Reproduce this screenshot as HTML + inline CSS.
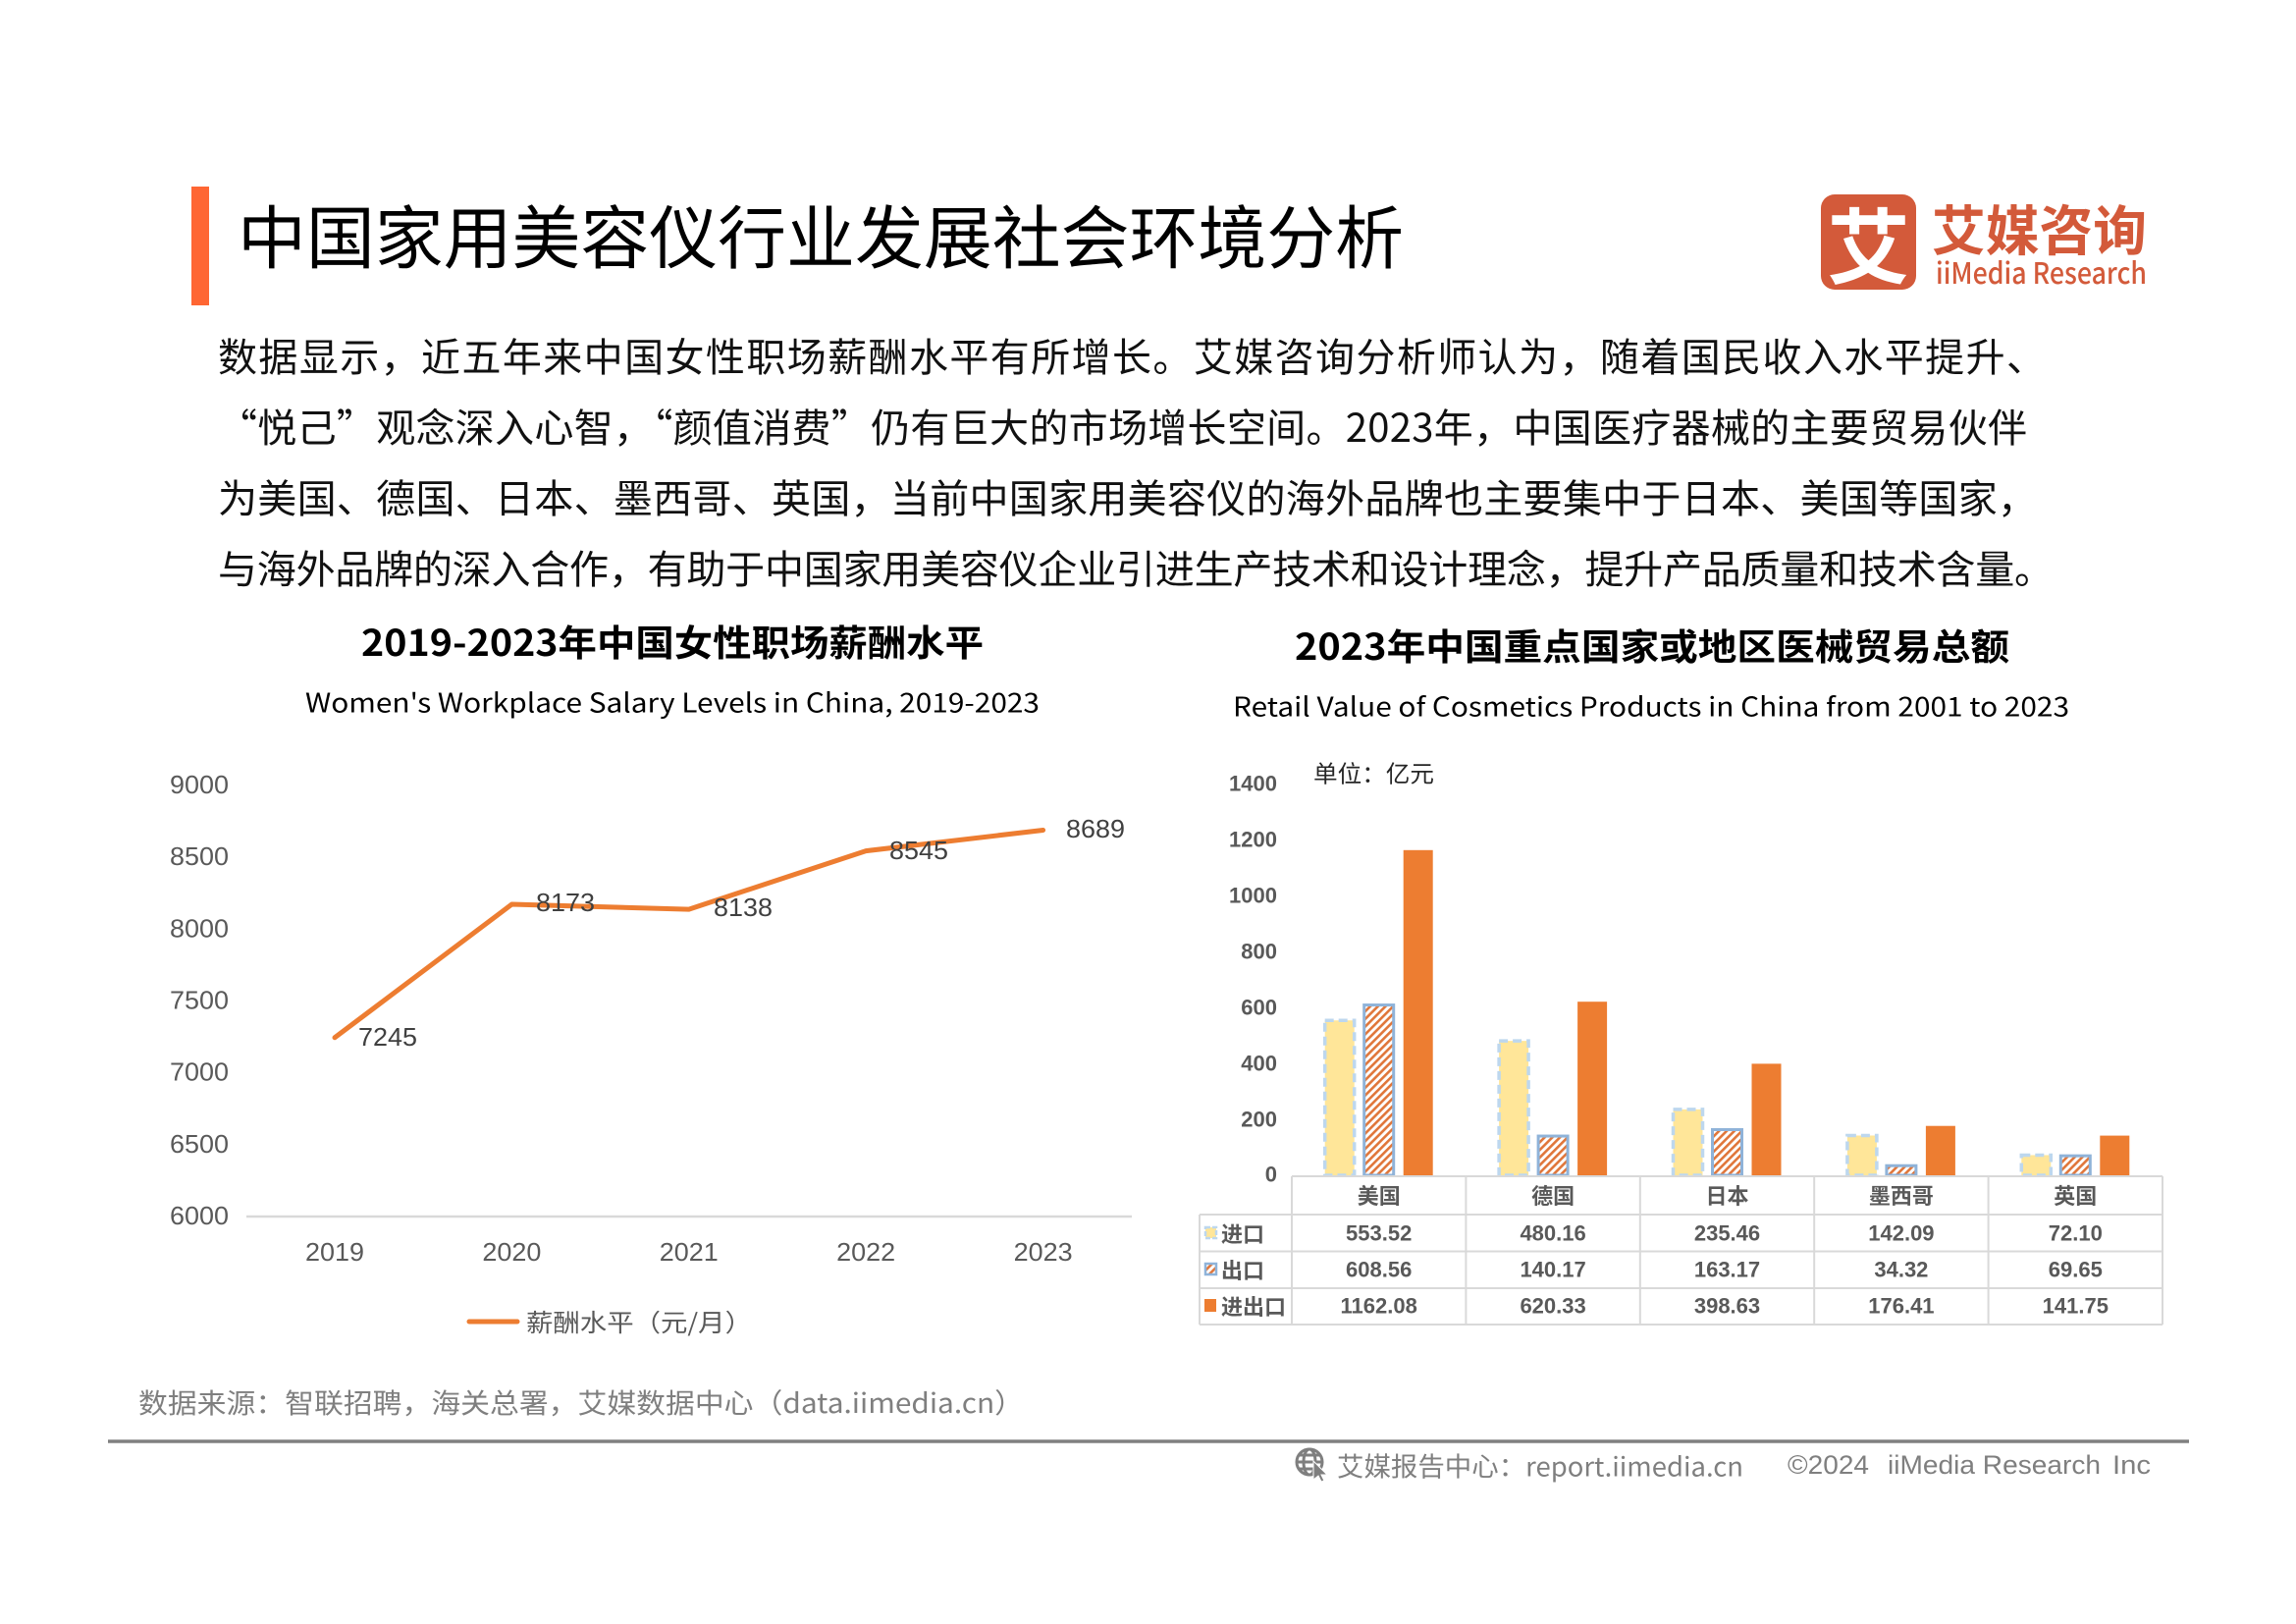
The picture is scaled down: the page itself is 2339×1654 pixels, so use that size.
<!DOCTYPE html>
<html>
<head>
<meta charset="utf-8">
<style>
  html,body{margin:0;padding:0;background:#fff;}
  body{width:2339px;height:1654px;overflow:hidden;}
  svg{display:block;}
  text{font-family:"Liberation Sans","Noto Sans CJK SC",sans-serif;}
  .cjk{font-family:"Noto Sans CJK SC","Liberation Sans",sans-serif;}
</style>
</head>
<body>
<svg width="2339" height="1654" viewBox="0 0 2339 1654" xmlns="http://www.w3.org/2000/svg">
  <defs>
    <pattern id="hatch" patternUnits="userSpaceOnUse" width="5.5" height="5.5" patternTransform="rotate(45)">
      <rect width="5.5" height="5.5" fill="#ffffff"/>
      <rect x="0" y="0" width="2.6" height="5.5" fill="#E0763A"/>
    </pattern>
  </defs>
  <rect width="2339" height="1654" fill="#ffffff"/>

  <!-- Header -->
  <rect x="195" y="190" width="18" height="121" fill="#FF6633"/>
  <text class="cjk" x="242" y="238" font-size="70" dominant-baseline="central" fill="#000" textLength="1188" lengthAdjust="spacingAndGlyphs">中国家用美容仪行业发展社会环境分析</text>

  <!-- Logo -->
  <rect x="1855" y="198" width="97" height="97" rx="14" fill="#D35A3A"/>
  <text class="cjk" x="1903.5" y="247" font-size="84" font-weight="bold" fill="#ffffff" text-anchor="middle" dominant-baseline="central">艾</text>
  <text class="cjk" x="1968" y="231" font-size="55" font-weight="bold" fill="#D35A3A" dominant-baseline="central" textLength="219" lengthAdjust="spacingAndGlyphs">艾媒咨询</text>
  <text class="cjk" x="1972" y="276" font-size="30" font-weight="500" fill="#D35A3A" dominant-baseline="central" textLength="215" lengthAdjust="spacingAndGlyphs">iiMedia Research</text>

  <!-- Paragraph -->
  <g class="cjk" font-size="40" fill="#111">
    <text class="cjk" x="222" y="361" dominant-baseline="central" textLength="1862" lengthAdjust="spacing">数据显示，近五年来中国女性职场薪酬水平有所增长。艾媒咨询分析师认为，随着国民收入水平提升、</text>
    <text class="cjk" x="222" y="433" dominant-baseline="central" textLength="1843" lengthAdjust="spacing">“悦己”观念深入心智，“颜值消费”仍有巨大的市场增长空间。2023年，中国医疗器械的主要贸易伙伴</text>
    <text class="cjk" x="222" y="505" dominant-baseline="central" textLength="1853" lengthAdjust="spacing">为美国、德国、日本、墨西哥、英国，当前中国家用美容仪的海外品牌也主要集中于日本、美国等国家，</text>
    <text class="cjk" x="222" y="577" dominant-baseline="central" textLength="1870" lengthAdjust="spacing">与海外品牌的深入合作，有助于中国家用美容仪企业引进生产技术和设计理念，提升产品质量和技术含量。</text>
  </g>

  <!-- ===== Line chart ===== -->
  <text class="cjk" x="685" y="652" font-size="37" font-weight="bold" fill="#000" text-anchor="middle" dominant-baseline="central" textLength="634" lengthAdjust="spacingAndGlyphs">2019-2023年中国女性职场薪酬水平</text>
  <text class="cjk" x="685" y="714" font-size="27" fill="#000" text-anchor="middle" dominant-baseline="central" textLength="748" lengthAdjust="spacingAndGlyphs">Women's Workplace Salary Levels in China, 2019-2023</text>

  <g font-size="26" fill="#595959" text-anchor="end">
    <text x="233" y="799" dominant-baseline="central" textLength="60" lengthAdjust="spacingAndGlyphs">9000</text>
    <text x="233" y="872.2" dominant-baseline="central" textLength="60" lengthAdjust="spacingAndGlyphs">8500</text>
    <text x="233" y="945.3" dominant-baseline="central" textLength="60" lengthAdjust="spacingAndGlyphs">8000</text>
    <text x="233" y="1018.5" dominant-baseline="central" textLength="60" lengthAdjust="spacingAndGlyphs">7500</text>
    <text x="233" y="1091.7" dominant-baseline="central" textLength="60" lengthAdjust="spacingAndGlyphs">7000</text>
    <text x="233" y="1164.8" dominant-baseline="central" textLength="60" lengthAdjust="spacingAndGlyphs">6500</text>
    <text x="233" y="1238" dominant-baseline="central" textLength="60" lengthAdjust="spacingAndGlyphs">6000</text>
  </g>
  <line x1="251" y1="1239" x2="1153" y2="1239" stroke="#D9D9D9" stroke-width="2.5"/>
  <g font-size="26" fill="#595959" text-anchor="middle">
    <text x="341" y="1275" dominant-baseline="central" textLength="60" lengthAdjust="spacingAndGlyphs">2019</text>
    <text x="521.4" y="1275" dominant-baseline="central" textLength="60" lengthAdjust="spacingAndGlyphs">2020</text>
    <text x="701.8" y="1275" dominant-baseline="central" textLength="60" lengthAdjust="spacingAndGlyphs">2021</text>
    <text x="882.2" y="1275" dominant-baseline="central" textLength="60" lengthAdjust="spacingAndGlyphs">2022</text>
    <text x="1062.6" y="1275" dominant-baseline="central" textLength="60" lengthAdjust="spacingAndGlyphs">2023</text>
  </g>
  <polyline points="341,1056.8 521.4,921 701.8,926.1 882.2,866.6 1062.6,845.5" fill="none" stroke="#ED7D31" stroke-width="5" stroke-linejoin="round" stroke-linecap="round"/>
  <g font-size="26" fill="#404040">
    <text x="365" y="1056" dominant-baseline="central" textLength="60" lengthAdjust="spacingAndGlyphs">7245</text>
    <text x="546" y="919" dominant-baseline="central" textLength="60" lengthAdjust="spacingAndGlyphs">8173</text>
    <text x="727" y="924" dominant-baseline="central" textLength="60" lengthAdjust="spacingAndGlyphs">8138</text>
    <text x="906" y="866" dominant-baseline="central" textLength="60" lengthAdjust="spacingAndGlyphs">8545</text>
    <text x="1086" y="844" dominant-baseline="central" textLength="60" lengthAdjust="spacingAndGlyphs">8689</text>
  </g>
  <line x1="478" y1="1346" x2="527" y2="1346" stroke="#ED7D31" stroke-width="5" stroke-linecap="round"/>
  <text class="cjk" x="536" y="1346" font-size="25" fill="#595959" dominant-baseline="central" textLength="230" lengthAdjust="spacingAndGlyphs">薪酬水平（元/月）</text>

  <!-- Source -->
  <text class="cjk" x="141" y="1428" font-size="28" fill="#7F7F7F" dominant-baseline="central" textLength="902" lengthAdjust="spacingAndGlyphs">数据来源：智联招聘，海关总署，艾媒数据中心（data.iimedia.cn）</text>

  <!-- ===== Bar chart ===== -->
  <text class="cjk" x="1683" y="656" font-size="37" font-weight="bold" fill="#000" text-anchor="middle" dominant-baseline="central" textLength="728" lengthAdjust="spacingAndGlyphs">2023年中国重点国家或地区医械贸易总额</text>
  <text class="cjk" x="1682" y="718" font-size="27" fill="#000" text-anchor="middle" dominant-baseline="central" textLength="852" lengthAdjust="spacingAndGlyphs">Retail Value of Cosmetics Products in China from 2001 to 2023</text>
  <text class="cjk" x="1338" y="786" font-size="24" fill="#262626" dominant-baseline="central" textLength="123" lengthAdjust="spacingAndGlyphs">单位：亿元</text>

  <g font-size="22" font-weight="bold" fill="#595959" text-anchor="end">
    <text x="1301" y="798" dominant-baseline="central">1400</text>
    <text x="1301" y="855" dominant-baseline="central">1200</text>
    <text x="1301" y="912" dominant-baseline="central">1000</text>
    <text x="1301" y="969" dominant-baseline="central">800</text>
    <text x="1301" y="1026" dominant-baseline="central">600</text>
    <text x="1301" y="1083" dominant-baseline="central">400</text>
    <text x="1301" y="1140" dominant-baseline="central">200</text>
    <text x="1301" y="1196" dominant-baseline="central">0</text>
  </g>

  <!-- Bars -->
  <g>
    <!-- 美国 c=1404.7 -->
    <rect x="1349.7" y="1039.25" width="30" height="157.75" fill="#FFE699" stroke="#BDD7EE" stroke-width="3.5" stroke-dasharray="9 5"/>
    <rect x="1389.7" y="1023.56" width="30" height="173.44" fill="url(#hatch)" stroke="#8FB3D9" stroke-width="3"/>
    <rect x="1429.7" y="865.81" width="30" height="331.19" fill="#ED7D31"/>
    <!-- 德国 c=1582.1 -->
    <rect x="1527.1" y="1060.15" width="30" height="136.85" fill="#FFE699" stroke="#BDD7EE" stroke-width="3.5" stroke-dasharray="9 5"/>
    <rect x="1567.1" y="1157.05" width="30" height="39.95" fill="url(#hatch)" stroke="#8FB3D9" stroke-width="3"/>
    <rect x="1607.1" y="1020.21" width="30" height="176.79" fill="#ED7D31"/>
    <!-- 日本 c=1759.5 -->
    <rect x="1704.5" y="1129.89" width="30" height="67.11" fill="#FFE699" stroke="#BDD7EE" stroke-width="3.5" stroke-dasharray="9 5"/>
    <rect x="1744.5" y="1150.5" width="30" height="46.5" fill="url(#hatch)" stroke="#8FB3D9" stroke-width="3"/>
    <rect x="1784.5" y="1083.39" width="30" height="113.61" fill="#ED7D31"/>
    <!-- 墨西哥 c=1936.9 -->
    <rect x="1881.9" y="1156.5" width="30" height="40.5" fill="#FFE699" stroke="#BDD7EE" stroke-width="3.5" stroke-dasharray="9 5"/>
    <rect x="1921.9" y="1187.22" width="30" height="9.78" fill="url(#hatch)" stroke="#8FB3D9" stroke-width="3"/>
    <rect x="1961.9" y="1146.72" width="30" height="50.28" fill="#ED7D31"/>
    <!-- 英国 c=2114.3 -->
    <rect x="2059.3" y="1176.45" width="30" height="20.55" fill="#FFE699" stroke="#BDD7EE" stroke-width="3.5" stroke-dasharray="9 5"/>
    <rect x="2099.3" y="1177.15" width="30" height="19.85" fill="url(#hatch)" stroke="#8FB3D9" stroke-width="3"/>
    <rect x="2139.3" y="1156.6" width="30" height="40.4" fill="#ED7D31"/>
  </g>

  <!-- Data table -->
  <g stroke="#D9D9D9" stroke-width="2" fill="none">
    <line x1="1316" y1="1198" x2="2203" y2="1198"/>
    <line x1="1222" y1="1237" x2="2203" y2="1237"/>
    <line x1="1222" y1="1274.5" x2="2203" y2="1274.5"/>
    <line x1="1222" y1="1312" x2="2203" y2="1312"/>
    <line x1="1222" y1="1349" x2="2203" y2="1349"/>
    <line x1="1222" y1="1237" x2="1222" y2="1349"/>
    <line x1="1316" y1="1198" x2="1316" y2="1349"/>
    <line x1="1493.4" y1="1198" x2="1493.4" y2="1349"/>
    <line x1="1670.8" y1="1198" x2="1670.8" y2="1349"/>
    <line x1="1848.2" y1="1198" x2="1848.2" y2="1349"/>
    <line x1="2025.6" y1="1198" x2="2025.6" y2="1349"/>
    <line x1="2203" y1="1198" x2="2203" y2="1349"/>
  </g>
  <g class="cjk" font-size="22" font-weight="bold" fill="#595959" text-anchor="middle">
    <text class="cjk" x="1404.7" y="1217" dominant-baseline="central">美国</text>
    <text class="cjk" x="1582.1" y="1217" dominant-baseline="central">德国</text>
    <text class="cjk" x="1759.5" y="1217" dominant-baseline="central">日本</text>
    <text class="cjk" x="1936.9" y="1217" dominant-baseline="central">墨西哥</text>
    <text class="cjk" x="2114.3" y="1217" dominant-baseline="central">英国</text>
  </g>
  <!-- row legend icons -->
  <rect x="1228" y="1250" width="11" height="11" fill="#FFE699" stroke="#BDD7EE" stroke-width="2.5" stroke-dasharray="5 2"/>
  <rect x="1228" y="1287" width="11" height="11" fill="url(#hatch)" stroke="#8FB3D9" stroke-width="2.5"/>
  <rect x="1227" y="1323" width="12" height="13" fill="#ED7D31"/>
  <g class="cjk" font-size="22" font-weight="bold" fill="#595959">
    <text class="cjk" x="1244" y="1256" dominant-baseline="central">进口</text>
    <text class="cjk" x="1244" y="1293" dominant-baseline="central">出口</text>
    <text class="cjk" x="1244" y="1330" dominant-baseline="central">进出口</text>
  </g>
  <g font-size="22" font-weight="bold" fill="#595959" text-anchor="middle">
    <text x="1404.7" y="1256" dominant-baseline="central">553.52</text>
    <text x="1582.1" y="1256" dominant-baseline="central">480.16</text>
    <text x="1759.5" y="1256" dominant-baseline="central">235.46</text>
    <text x="1936.9" y="1256" dominant-baseline="central">142.09</text>
    <text x="2114.3" y="1256" dominant-baseline="central">72.10</text>
    <text x="1404.7" y="1293" dominant-baseline="central">608.56</text>
    <text x="1582.1" y="1293" dominant-baseline="central">140.17</text>
    <text x="1759.5" y="1293" dominant-baseline="central">163.17</text>
    <text x="1936.9" y="1293" dominant-baseline="central">34.32</text>
    <text x="2114.3" y="1293" dominant-baseline="central">69.65</text>
    <text x="1404.7" y="1330" dominant-baseline="central">1162.08</text>
    <text x="1582.1" y="1330" dominant-baseline="central">620.33</text>
    <text x="1759.5" y="1330" dominant-baseline="central">398.63</text>
    <text x="1936.9" y="1330" dominant-baseline="central">176.41</text>
    <text x="2114.3" y="1330" dominant-baseline="central">141.75</text>
  </g>

  <!-- Bottom rule -->
  <line x1="110" y1="1468" x2="2230" y2="1468" stroke="#808080" stroke-width="3.5"/>

  <!-- Footer -->
  <g fill="none" stroke="#7F7F7F" stroke-width="3">
    <circle cx="1334" cy="1489" r="13"/>
    <ellipse cx="1334" cy="1489" rx="6" ry="13"/>
    <line x1="1321" y1="1489" x2="1347" y2="1489"/>
    <line x1="1323" y1="1482" x2="1345" y2="1482"/>
    <line x1="1323" y1="1496" x2="1345" y2="1496"/>
  </g>
  <path d="M1338 1488 L1352 1502 L1346 1502 L1349 1508 L1346 1509 L1343 1503 L1338 1507 Z" fill="#7F7F7F" stroke="#ffffff" stroke-width="1"/>
  <text class="cjk" x="1362" y="1492" font-size="27" fill="#7F7F7F" dominant-baseline="central" textLength="414" lengthAdjust="spacingAndGlyphs">艾媒报告中心：report.iimedia.cn</text>
  <text x="1821" y="1492" font-size="27" fill="#7F7F7F" dominant-baseline="central" textLength="83" lengthAdjust="spacingAndGlyphs">©2024</text>
  <text x="1923" y="1492" font-size="27" fill="#7F7F7F" dominant-baseline="central" textLength="217" lengthAdjust="spacingAndGlyphs">iiMedia Research</text>
  <text x="2152" y="1492" font-size="27" fill="#7F7F7F" dominant-baseline="central" textLength="39" lengthAdjust="spacingAndGlyphs">Inc</text>
</svg>
</body>
</html>
